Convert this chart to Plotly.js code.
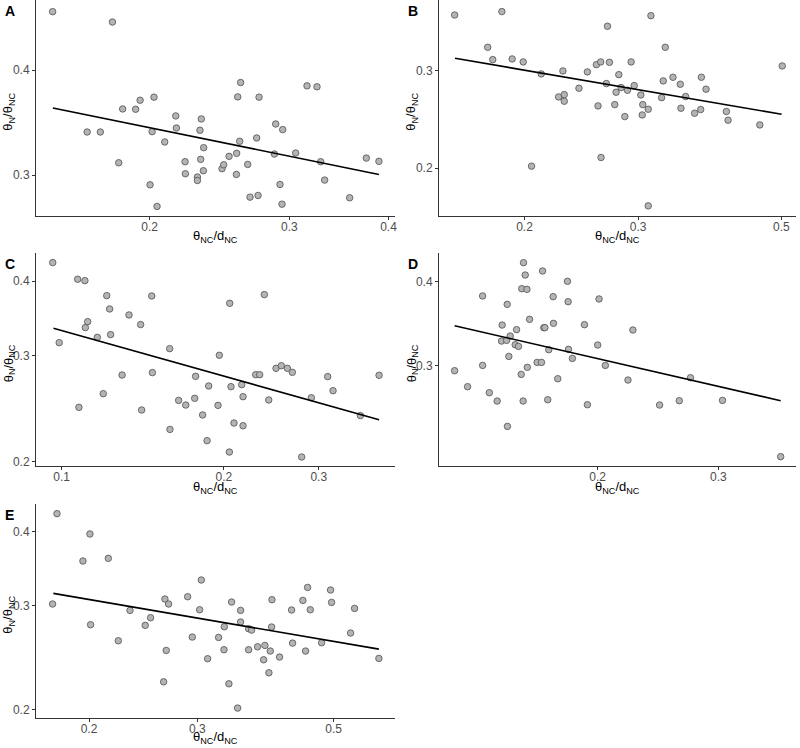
<!DOCTYPE html>
<html>
<head>
<meta charset="utf-8">
<script src="https://cdn.plot.ly/plotly-3.0.1.min.js"></script>
<style>
  body { margin: 0; background: #fff; }
  #plot { width: 800px; height: 748px; }
</style>
</head>
<body>
<div id="plot"></div>
<script>
// Panel A
const xA = [0.1509, 0.1795, 0.1668, 0.1733, 0.1828, 0.1849, 0.1920, 0.1945, 0.2025, 0.2014,
    0.2002, 0.2043, 0.2089, 0.2157, 0.2161, 0.2216, 0.2218, 0.2297, 0.2297, 0.2314,
    0.2323, 0.2319, 0.2339, 0.2337, 0.2467, 0.2479, 0.2518, 0.2574, 0.2572, 0.2582,
    0.2597, 0.2604, 0.2658, 0.2676, 0.2728, 0.2739, 0.2747, 0.2872, 0.2883, 0.2919,
    0.2942, 0.2936, 0.3055, 0.3157, 0.3250, 0.3285, 0.3323, 0.3573, 0.3750, 0.3890];
const yA = [0.4695, 0.4563, 0.3376, 0.3376, 0.3103, 0.3596, 0.3593, 0.3683, 0.3714, 0.3379,
    0.2921, 0.2753, 0.3285, 0.3528, 0.3413, 0.3112, 0.3011, 0.2984, 0.2956, 0.3392,
    0.3499, 0.3132, 0.3234, 0.3036, 0.3053, 0.3086, 0.3158, 0.3184, 0.3005, 0.3717,
    0.3291, 0.3866, 0.3089, 0.2824, 0.3321, 0.2837, 0.3714, 0.3178, 0.3451, 0.2924,
    0.3398, 0.2770, 0.3187, 0.3831, 0.3821, 0.3112, 0.2959, 0.2819, 0.3143, 0.3115];
const fitXA = [0.151, 0.389];
const fitYA = [0.3606, 0.3005];

// Panel B
const xB = [0.1559, 0.1754, 0.1786, 0.1845, 0.1914, 0.1991, 0.2051, 0.2123, 0.2259, 0.2294,
    0.2305, 0.2305, 0.2429, 0.2503, 0.2585, 0.2600, 0.2625, 0.2628, 0.2679, 0.2689,
    0.2708, 0.2760, 0.2773, 0.2800, 0.2823, 0.2861, 0.2888, 0.2926, 0.2958, 0.3029,
    0.3044, 0.3050, 0.3110, 0.3110, 0.3140, 0.3262, 0.3281, 0.3305, 0.3397, 0.3487,
    0.3495, 0.3554, 0.3670, 0.3750, 0.3759, 0.3822, 0.4110, 0.4135, 0.4631, 0.5016];
const yB = [0.3788, 0.3311, 0.3145, 0.3842, 0.3154, 0.3115, 0.2017, 0.2963, 0.2692, 0.3000,
    0.2718, 0.2644, 0.2791, 0.2988, 0.3080, 0.2593, 0.3115, 0.2091, 0.2846, 0.3614,
    0.3110, 0.2607, 0.2745, 0.2954, 0.2799, 0.2480, 0.2768, 0.3115, 0.2822, 0.2714,
    0.2497, 0.2607, 0.2557, 0.1709, 0.3778, 0.2684, 0.2878, 0.3311, 0.2922, 0.2838,
    0.2568, 0.2696, 0.2515, 0.2554, 0.2922, 0.2780, 0.2533, 0.2443, 0.2395, 0.3063];
const fitXB = [0.1561, 0.5005];
const fitYB = [0.3163, 0.2504];

// Panel C
const xC = [0.0963, 0.0990, 0.1071, 0.1077, 0.1105, 0.1107, 0.1118, 0.1165, 0.1195, 0.1213,
    0.1228, 0.1233, 0.1295, 0.1334, 0.1402, 0.1408, 0.1470, 0.1474, 0.1587, 0.1589,
    0.1649, 0.1700, 0.1766, 0.1773, 0.1827, 0.1862, 0.1875, 0.1951, 0.1962, 0.2048,
    0.2051, 0.2062, 0.2089, 0.2159, 0.2171, 0.2171, 0.2292, 0.2331, 0.2378, 0.2423,
    0.2500, 0.2557, 0.2624, 0.2680, 0.2789, 0.2907, 0.3117, 0.3189, 0.3584, 0.3882];
const yC = [0.4297, 0.3158, 0.4030, 0.2462, 0.4009, 0.3346, 0.3424, 0.3223, 0.2595, 0.3784,
    0.3595, 0.3257, 0.2788, 0.3513, 0.3385, 0.2437, 0.3779, 0.2814, 0.3086, 0.2262,
    0.2529, 0.2484, 0.2549, 0.2774, 0.2391, 0.2166, 0.2673, 0.2481, 0.3008, 0.2073,
    0.3674, 0.2666, 0.2318, 0.2687, 0.2565, 0.2294, 0.2792, 0.2792, 0.3799, 0.2533,
    0.2861, 0.2890, 0.2861, 0.2817, 0.2034, 0.2555, 0.2771, 0.2625, 0.2385, 0.2785];
const fitXC = [0.0966, 0.3882];
const fitYC = [0.3337, 0.2348];

// Panel D
const xD = [0.1237, 0.1292, 0.1359, 0.1359, 0.1390, 0.1427, 0.1448, 0.1451, 0.1473, 0.1476,
    0.1477, 0.1484, 0.1491, 0.1516, 0.1523, 0.1533, 0.1547, 0.1550, 0.1557, 0.1559,
    0.1568, 0.1577, 0.1579, 0.1591, 0.1632, 0.1656, 0.1662, 0.1669, 0.1675, 0.1691,
    0.1697, 0.1722, 0.1724, 0.1749, 0.1807, 0.1811, 0.1813, 0.1837, 0.1913, 0.1932,
    0.2000, 0.2009, 0.2052, 0.2214, 0.2251, 0.2462, 0.2630, 0.2731, 0.3041, 0.3697];
const yD = [0.2949, 0.2792, 0.3809, 0.3003, 0.2735, 0.2658, 0.3264, 0.3448, 0.3272, 0.3701,
    0.2437, 0.3097, 0.3321, 0.3224, 0.3394, 0.3205, 0.2912, 0.3905, 0.2658, 0.4269,
    0.4092, 0.3896, 0.2983, 0.3516, 0.3034, 0.3034, 0.4149, 0.3417, 0.3417, 0.2670,
    0.3169, 0.3800, 0.3468, 0.2869, 0.4005, 0.3735, 0.3173, 0.3076, 0.3452, 0.2625,
    0.3220, 0.3770, 0.3003, 0.2856, 0.3390, 0.2622, 0.2661, 0.2879, 0.2664, 0.2197];
const fitXD = [0.1237, 0.3697];
const fitYD = [0.344, 0.2661];

// Panel E
const xE = [0.1745, 0.1774, 0.1955, 0.2007, 0.2012, 0.2150, 0.2232, 0.2332, 0.2469, 0.2519,
    0.2645, 0.2658, 0.2671, 0.2695, 0.2894, 0.2945, 0.3027, 0.3046, 0.3119, 0.3250,
    0.3316, 0.3320, 0.3378, 0.3412, 0.3490, 0.3529, 0.3529, 0.3637, 0.3637, 0.3678,
    0.3761, 0.3847, 0.3866, 0.3924, 0.3944, 0.3964, 0.3969, 0.4084, 0.4272, 0.4288,
    0.4457, 0.4502, 0.4536, 0.4582, 0.4780, 0.4944, 0.4963, 0.5329, 0.5409, 0.5925];
const yE = [0.3020, 0.4295, 0.3571, 0.3968, 0.2786, 0.3608, 0.2617, 0.2946, 0.2779, 0.2863,
    0.2230, 0.3079, 0.2520, 0.3020, 0.3107, 0.2655, 0.2953, 0.3316, 0.2440, 0.2651,
    0.2527, 0.2764, 0.2213, 0.3043, 0.2013, 0.2946, 0.2815, 0.2743, 0.2527, 0.2728,
    0.2556, 0.2430, 0.2570, 0.2310, 0.2514, 0.2761, 0.3071, 0.2456, 0.2950, 0.2593,
    0.3063, 0.2514, 0.3222, 0.2953, 0.2597, 0.3189, 0.3039, 0.2697, 0.2969, 0.2443];
const fitXE = [0.175, 0.5925];
const fitYE = [0.3148, 0.2533];

// tick values per panel
const ticksXA = [0.2, 0.3, 0.4];
const ticksYA = [0.3, 0.4];
const ticksXB = [0.2, 0.3, 0.5];
const ticksYB = [0.2, 0.3];
const ticksXC = [0.1, 0.2, 0.3];
const ticksYC = [0.2, 0.3, 0.4];
const ticksXD = [0.2, 0.3];
const ticksYD = [0.3, 0.4];
const ticksXE = [0.2, 0.3, 0.5];
const ticksYE = [0.2, 0.3, 0.4];

const panelLabels = ['A', 'B', 'C', 'D', 'E'];
const xTitle = 'θ<sub>NC</sub>/d<sub>NC</sub>';
const yTitle = 'θ<sub>N</sub>/θ<sub>NC</sub>';

const W = 800, H = 748;
const FONT = 'Liberation Sans, Arial, sans-serif';

// pixel boxes of the panels: [left, right, top, bottom]
const boxes = [
    [36, 395, 0, 215.5],
    [439, 796, 0, 215.5],
    [36, 395, 253, 465.7],
    [439, 796, 253, 465.7],
    [36, 395, 504, 717.5],
];
// gap between x axis line and top of its title
const titleGap = [11, 11, 11, 11, 9];
// log10 ranges
const xRanges = [[-0.8423, -0.3898], [-0.8314, -0.2783], [-1.0474, -0.3814], [-0.9304, -0.4098], [-0.7852, -0.2011]];
const yRanges = [[-0.571, -0.3145], [-0.7847, -0.3944], [-0.7062, -0.3508], [-0.6716, -0.3553], [-0.7121, -0.3507]];

const panels = [
    [xA, yA, fitXA, fitYA, ticksXA, ticksYA],
    [xB, yB, fitXB, fitYB, ticksXB, ticksYB],
    [xC, yC, fitXC, fitYC, ticksXC, ticksYC],
    [xD, yD, fitXD, fitYD, ticksXD, ticksYD],
    [xE, yE, fitXE, fitYE, ticksXE, ticksYE],
];

const data = [];
const layout = {
    width: W,
    height: H,
    margin: { l: 0, r: 0, t: 0, b: 0 },
    paper_bgcolor: '#fff',
    plot_bgcolor: '#fff',
    showlegend: false,
    font: { family: FONT },
    annotations: [],
};

panels.forEach((p, i) => {
    const n = i === 0 ? '' : String(i + 1);
    const [l, r, t, b] = boxes[i];

    data.push({
        x: p[0], y: p[1],
        xaxis: 'x' + n, yaxis: 'y' + n,
        type: 'scatter', mode: 'markers',
        marker: { size: 6.5, color: '#b4b4b4', line: { color: '#505050', width: 0.8 } },
        hoverinfo: 'skip',
    });
    data.push({
        x: p[2], y: p[3],
        xaxis: 'x' + n, yaxis: 'y' + n,
        type: 'scatter', mode: 'lines',
        line: { color: '#000', width: 1.6 },
        hoverinfo: 'skip',
    });

    const axisCommon = {
        type: 'log',
        showgrid: false,
        zeroline: false,
        showline: true,
        linecolor: '#333',
        linewidth: 1,
        ticks: 'outside',
        ticklen: 3,
        tickwidth: 1,
        tickcolor: '#333',
        tickfont: { size: 12, color: '#4d4d4d', family: FONT },
        tickmode: 'array',
    };
    layout['xaxis' + n] = Object.assign({}, axisCommon, {
        domain: [l / W, r / W],
        range: xRanges[i],
        anchor: 'y' + n,
        tickvals: p[4],
        ticktext: p[4].map(String),
        ticklabelstandoff: -3,
    });
    layout['yaxis' + n] = Object.assign({}, axisCommon, {
        domain: [1 - b / H, 1 - t / H],
        range: yRanges[i],
        anchor: 'x' + n,
        tickvals: p[5],
        ticktext: p[5].map(String),
    });

    // panel letter
    layout.annotations.push({
        text: '<b>' + panelLabels[i] + '</b>',
        xref: 'paper', yref: 'paper',
        x: (l - 33) / W, y: 1 - (t + 10.5) / H,
        xanchor: 'left', yanchor: 'middle',
        showarrow: false,
        font: { size: 14, color: '#000', family: FONT },
    });
    // x title
    layout.annotations.push({
        text: xTitle,
        xref: 'paper', yref: 'paper',
        x: ((l + r) / 2) / W, y: 1 - (b + titleGap[i]) / H,
        xanchor: 'center', yanchor: 'top',
        showarrow: false,
        font: { size: 13, color: '#000', family: FONT },
    });
    // y title
    layout.annotations.push({
        text: yTitle,
        xref: 'paper', yref: 'paper',
        x: (l - 27) / W, y: 1 - ((t + b) / 2 + 4) / H,
        xanchor: 'center', yanchor: 'middle',
        textangle: -90,
        showarrow: false,
        font: { size: 13, color: '#000', family: FONT },
    });
});

Plotly.newPlot('plot', data, layout, { staticPlot: true });
</script>
</body>
</html>
